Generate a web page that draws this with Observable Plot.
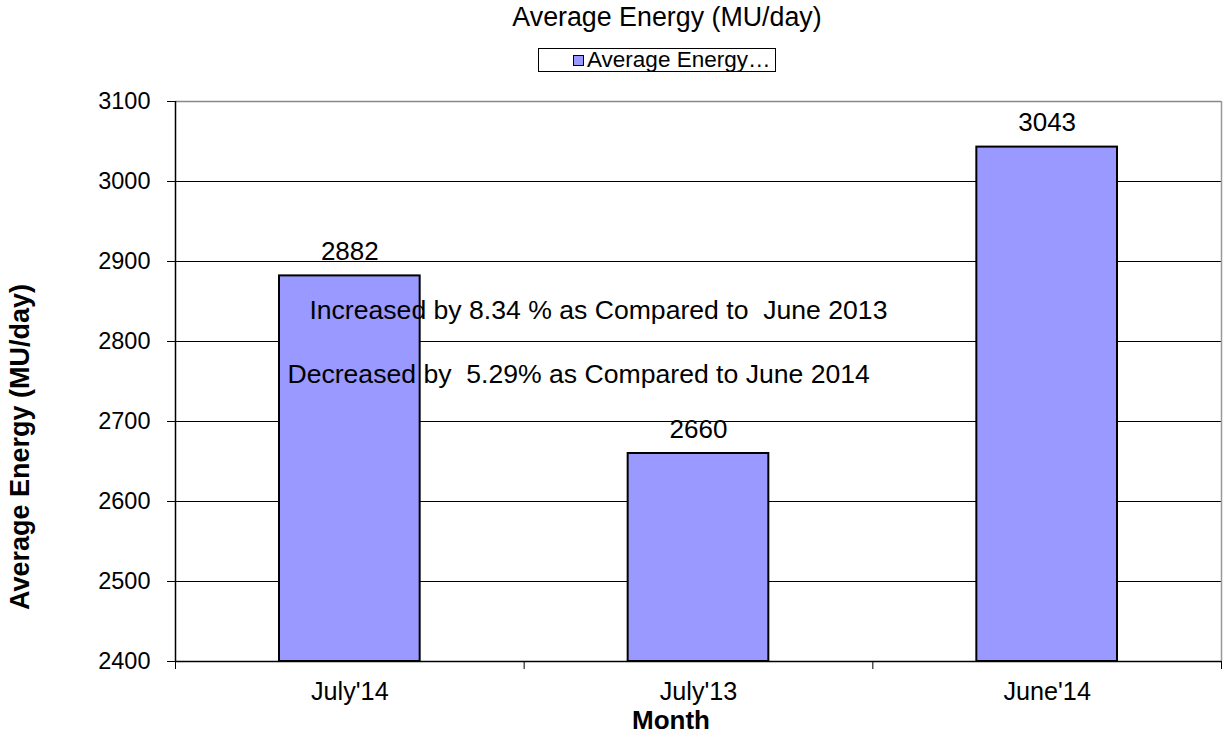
<!DOCTYPE html>
<html><head><meta charset="utf-8">
<script src="https://cdn.jsdelivr.net/npm/d3@7"></script>
<script src="https://cdn.jsdelivr.net/npm/@observablehq/plot@0.6"></script>
<style>
body{margin:0;background:#fff;font-family:"Liberation Sans",Arial,sans-serif;color:#000;}
#wrap{position:relative;width:1225px;height:740px;overflow:hidden;}
#chart{position:absolute;left:0;top:0;}
svg text{white-space:pre;}
.title{position:absolute;left:667px;top:4px;transform:translateX(-50%);font-size:26.8px;line-height:26px;white-space:nowrap;}
.legend{position:absolute;left:538px;top:48px;width:238px;height:24px;box-sizing:border-box;border:1px solid #000;background:#fff;}
.legend .sw{position:absolute;left:34px;top:6px;width:11px;height:11px;box-sizing:border-box;border:1px solid #000;background:#9999ff;}
.legend .lt{position:absolute;left:48px;top:0px;font-size:22.5px;line-height:22px;white-space:nowrap;}
.ylab{position:absolute;left:20px;top:447px;transform:translate(-50%,-50%) rotate(-90deg);font-weight:bold;font-size:27px;line-height:26px;white-space:nowrap;}
.xlab{position:absolute;left:671px;top:707px;transform:translateX(-50%);font-weight:bold;font-size:26px;line-height:26px;white-space:nowrap;}
</style></head><body>
<div id="wrap">
  <div id="chart"></div>
  <div class="title">Average Energy (MU/day)</div>
  <div class="legend"><span class="sw"></span><span class="lt">Average Energy…</span></div>
  <div class="ylab">Average Energy (MU/day)</div>
  <div class="xlab">Month</div>
</div>
<script>
const categories = ["July'14", "July'13", "June'14"];
const values = [2882, 2660, 3043];
const yTicks = [2400, 2500, 2600, 2700, 2800, 2900, 3000, 3100];
const notes = ["Increased by 8.34 % as Compared to  June 2013", "Decreased by  5.29% as Compared to June 2014"];
const noteY = [2838.75, 2758.75];
const noteX = [0.384, 0.321];

const data = categories.map((c, i) => ({c, i, v: values[i]}));
const noteData = notes.map((t, i) => ({t, x: noteX[i], y: noteY[i]}));

const chart = Plot.plot({
  width: 1225,
  height: 740,
  marginLeft: 175,
  marginRight: 4,
  marginTop: 101,
  marginBottom: 79,
  style: {fontFamily: "'Liberation Sans', Arial, sans-serif", fontSize: "24px", color: "#000", background: "transparent", overflow: "visible"},
  x: {domain: [0, categories.length], axis: null},
  y: {domain: [2400, 3100], axis: null},
  marks: [
    Plot.ruleY(yTicks.slice(1, -1), {stroke: "#000", strokeWidth: 1}),
    Plot.ruleY([3100], {stroke: "#888", strokeWidth: 1.5}),
    Plot.ruleX([categories.length], {stroke: "#999", strokeWidth: 1.5}),
    Plot.rectY(data, {x1: "i", x2: d => d.i + 1, y1: 2400, y2: "v", fill: "#9999ff", stroke: "#000", strokeWidth: 2, insetLeft: 104, insetRight: 104}),
    Plot.ruleX([0], {stroke: "#000", strokeWidth: 1.5}),
    Plot.ruleY([2400], {stroke: "#000", strokeWidth: 1.5}),
    Plot.axisY({ticks: yTicks, tickSize: 8, tickPadding: 17, tickFormat: d => String(d), fontSize: 23.5, stroke: "#000"}),
    Plot.axisX({ticks: d3.range(categories.length + 1), tickSize: 8, tickFormat: () => "", stroke: "#000"}),
    Plot.axisX({ticks: categories.map((c, i) => i + 0.5), tickSize: 0, tickPadding: 21, tickFormat: d => categories[Math.floor(d)], fontSize: 25.2}),
    Plot.text(data, {x: d => d.i + 0.5, y: "v", text: d => String(d.v), lineAnchor: "bottom", dy: -16, fontSize: 26, fill: "#000"}),
    Plot.text(noteData, {x: "x", y: "y", text: "t", textAnchor: "start", lineAnchor: "middle", fontSize: 26.6, fill: "#000"})
  ]
});
document.getElementById("chart").appendChild(chart);
</script>
</body></html>
